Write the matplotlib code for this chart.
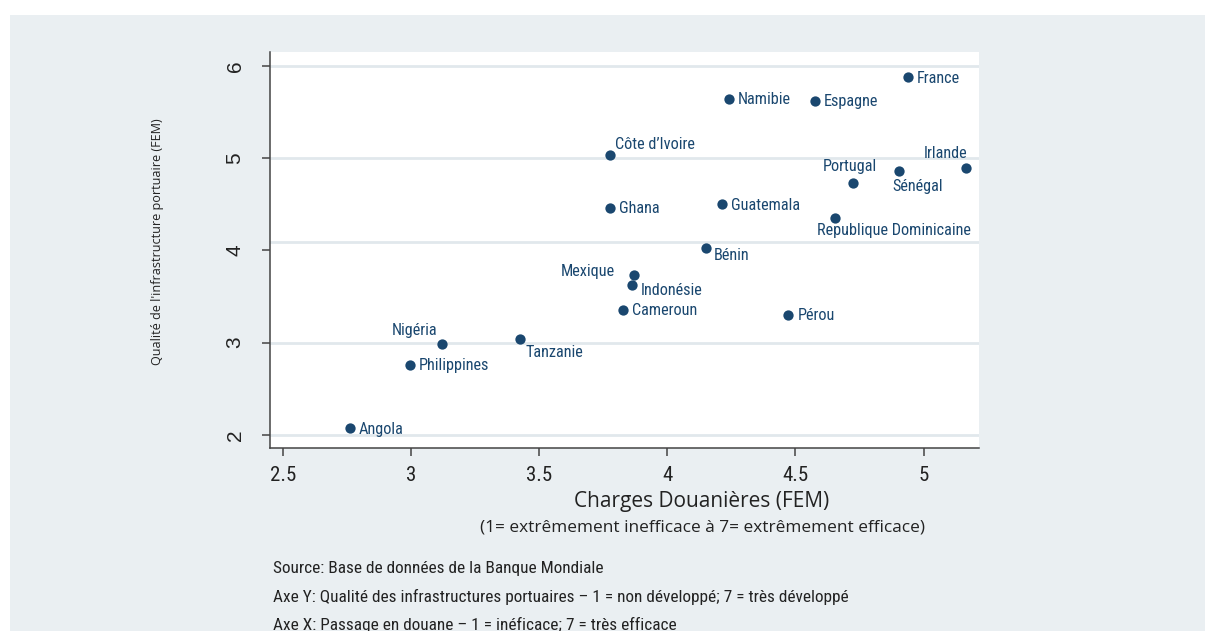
import matplotlib
matplotlib.use("Agg")
import matplotlib.pyplot as plt
from matplotlib import font_manager
from matplotlib.patches import Rectangle

# data
countries = ["Angola", "Philippines", "Nigéria", "Tanzanie", "Côte d’Ivoire", "Ghana",
             "Cameroun", "Indonésie", "Mexique", "Bénin", "Guatemala", "Namibie",
             "Espagne", "Pérou", "Republique Dominicaine", "Portugal", "Sénégal",
             "France", "Irlande"]
charges = [2.762, 2.995, 3.123, 3.425, 3.776, 3.775, 3.828, 3.862, 3.871, 4.151,
           4.214, 4.241, 4.577, 4.473, 4.654, 4.724, 4.905, 4.940, 5.166]
qualite = [2.072, 2.762, 2.987, 3.041, 5.037, 4.462, 3.356, 3.623, 3.728, 4.021,
           4.501, 5.640, 5.622, 3.302, 4.354, 4.733, 4.859, 5.875, 4.892]
x_ticks = [2.5, 3, 3.5, 4, 4.5, 5]
y_ticks = [2, 3, 4, 5, 6]
grid_y = [2, 3, 4.09, 5, 6]

# label placement (offset in pixels, horizontal alignment)
label_pos = {
    "Nigéria": (-5, 13, "right"), "Tanzanie": (6, -14, "left"),
    "Côte d’Ivoire": (5, 10, "left"), "Indonésie": (9, -5, "left"),
    "Mexique": (-19, 4, "right"), "Bénin": (8, -7, "left"),
    "Republique Dominicaine": (-18, -13, "left"), "Portugal": (-3, 16, "center"),
    "Sénégal": (-7, -15, "left"), "Irlande": (1, 15, "right"),
}

names = {f.name for f in font_manager.fontManager.ttflist}

def pick(cands, default):
    for c in cands:
        if c in names:
            return c
    return default

narrow = pick(["Roboto Condensed", "Archivo Narrow", "PT Sans Narrow", "Fira Sans Condensed",
               "IBM Plex Sans Condensed", "Liberation Sans Narrow"], "Liberation Sans")
navy = "#1a476f"
bg = "#eaeff2"

W, H = 1205, 631
fig = plt.figure(figsize=(W / 100, H / 100), dpi=100)
fig.patch.set_facecolor(bg)
# white strips on the top and left edges
fig.patches.append(Rectangle((0, 1 - 15 / H), 1, 15 / H, transform=fig.transFigure,
                             facecolor="white", edgecolor="none"))
fig.patches.append(Rectangle((0, 0), 10 / W, 1, transform=fig.transFigure,
                             facecolor="white", edgecolor="none"))

ax = fig.add_axes([269.5 / W, 1 - 447.7 / H, (979.3 - 269.5) / W, (447.7 - 52) / H])
ax.set_zorder(2)
ax.set_facecolor("white")
ax.set_xlim(2.448, 5.2176)
ax.set_ylim(1.862, 6.149)

for g in grid_y:
    ax.axhline(g, color="#e1e8ec", lw=2, zorder=1)

ax.scatter(charges, qualite, s=55, color=navy, zorder=3, linewidths=0)
for name, x, y in zip(countries, charges, qualite):
    dx, dy, ha = label_pos.get(name, (9, -1, "left"))
    ax.annotate(name, (x, y), xytext=(dx, dy), textcoords="offset pixels",
                ha=ha, va="center", color=navy, fontsize=11.7, family=narrow, zorder=4)

for s in ["top", "right"]:
    ax.spines[s].set_visible(False)
for s in ["left", "bottom"]:
    ax.spines[s].set_color("#444444")
    ax.spines[s].set_linewidth(1.1)

ax.set_xticks(x_ticks)
ax.set_xticklabels([f"{v:g}" for v in x_ticks], family=narrow, fontsize=15, color="#222222")
ax.set_yticks(y_ticks)
ax.set_yticklabels([str(v) for v in y_ticks], family="Liberation Sans", fontsize=15,
                   color="#222222", rotation=90, va="center")
ax.tick_params(axis="both", length=6, width=1.1, color="#444444")
ax.tick_params(axis="x", pad=7)
ax.tick_params(axis="y", pad=12)

fig.text(158 / W, 1 - 242 / H, "Qualité de l'infrastructure portuaire (FEM)", rotation=90,
         ha="center", va="center", fontsize=9.1, family="Open Sans", color="#222222")
fig.text(702 / W, 1 - 501 / H, "Charges Douanières (FEM)", ha="center", va="center",
         fontsize=15, family="Open Sans", color="#222222")
fig.text(702 / W, 1 - 527 / H, "(1= extrêmement inefficace à 7= extrêmement efficace)",
         ha="center", va="center", fontsize=12.4, family="Open Sans", color="#222222")

notes = ["Source: Base de données de la Banque Mondiale",
         "Axe Y: Qualité des infrastructures portuaires – 1 = non développé; 7 = très développé",
         "Axe X: Passage en douane – 1 = inéficace; 7 = très efficace"]
for i, t in enumerate(notes):
    fig.text(273 / W, 1 - (568 + 28.5 * i) / H, t, ha="left", va="center",
             fontsize=12.4, family=narrow, color="#222222")

fig.savefig("out.png", dpi=100)
